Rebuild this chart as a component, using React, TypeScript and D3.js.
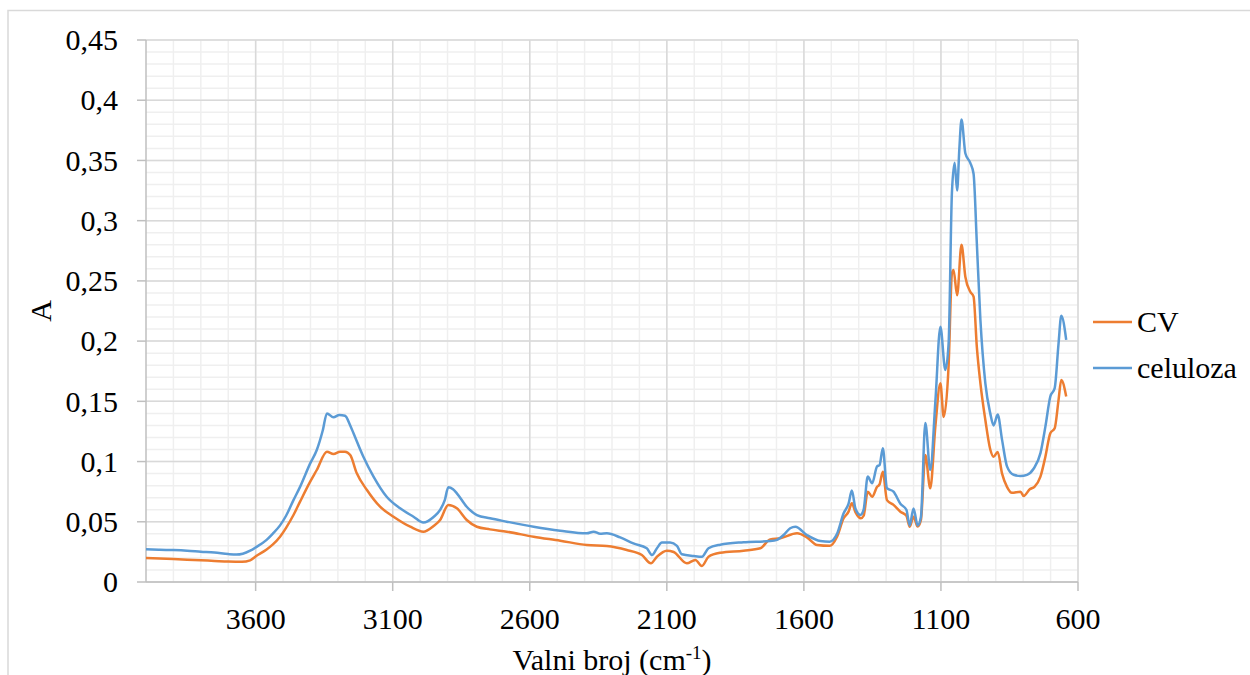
import React from "react";
import * as d3 from "d3";

// ---------- data ----------
const celulozaWn = [4000,3950,3900,3850,3800,3750,3700,3670,3647,3620,3598,3560,3538,3511,3489,3462,3438,3401,3377,3355,3340,3316,3295,3274,3255,3243,3207,3170,3122,3073,3024,2988,2951,2927,2910,2897,2880,2866,2830,2793,2745,2684,2586,2489,2392,2367,2343,2319,2270,2222,2173,2154,2136,2118,2088,2063,2045,2002,1972,1948,1905,1820,1723,1698,1674,1650,1631,1589,1540,1506,1479,1455,1437,1425,1412,1394,1382,1367,1351,1333,1324,1312,1297,1273,1248,1226,1214,1200,1185,1173,1157,1139,1120,1102,1084,1072,1060,1050,1041,1033,1025,1011,993,981,969,956,938,920,908,893,877,859,835,810,786,762,737,719,701,685,671,661,643];
const celulozaA = [0.0272,0.0268,0.0265,0.026,0.0252,0.0245,0.0232,0.0228,0.0235,0.026,0.029,0.035,0.040,0.047,0.055,0.068,0.079,0.0985,0.1096,0.126,0.140,0.1367,0.1387,0.138,0.130,0.1235,0.104,0.0875,0.0708,0.0612,0.0542,0.0493,0.054,0.0598,0.068,0.0786,0.077,0.0736,0.0625,0.0556,0.0529,0.0501,0.0459,0.0426,0.0404,0.0418,0.040,0.0404,0.037,0.032,0.028,0.0224,0.028,0.0327,0.0327,0.030,0.023,0.0216,0.021,0.028,0.031,0.033,0.034,0.035,0.039,0.0446,0.0459,0.039,0.034,0.0335,0.040,0.057,0.065,0.076,0.061,0.0556,0.060,0.0875,0.082,0.096,0.097,0.111,0.078,0.075,0.065,0.060,0.047,0.061,0.047,0.054,0.132,0.093,0.151,0.212,0.176,0.198,0.323,0.348,0.325,0.359,0.384,0.356,0.348,0.339,0.281,0.2175,0.165,0.140,0.130,0.139,0.118,0.096,0.089,0.088,0.089,0.094,0.107,0.129,0.154,0.161,0.198,0.221,0.201];

const cvWn = [4000,3950,3900,3850,3800,3750,3700,3650,3620,3598,3560,3538,3511,3489,3462,3438,3401,3377,3340,3316,3292,3274,3255,3231,3194,3146,3097,3036,2988,2951,2927,2897,2866,2830,2793,2745,2684,2586,2489,2392,2319,2246,2191,2158,2136,2100,2075,2027,1996,1972,1948,1905,1820,1759,1723,1686,1625,1589,1552,1506,1479,1455,1437,1425,1412,1392,1382,1367,1351,1333,1324,1312,1297,1273,1248,1226,1214,1200,1185,1173,1157,1139,1120,1102,1090,1072,1060,1054,1041,1025,1011,993,981,969,956,938,920,908,893,877,859,841,810,798,776,759,737,719,701,685,671,661,643];
const cvA = [0.020,0.0195,0.019,0.0185,0.018,0.0175,0.017,0.0168,0.018,0.0216,0.027,0.031,0.0376,0.045,0.0556,0.0667,0.0833,0.093,0.1082,0.1063,0.1082,0.1082,0.1054,0.0902,0.0764,0.0625,0.0542,0.0459,0.0418,0.0465,0.0515,0.064,0.0612,0.0515,0.0459,0.0437,0.0418,0.0376,0.0343,0.0307,0.0299,0.0266,0.0224,0.0155,0.021,0.026,0.0249,0.0155,0.0183,0.0133,0.021,0.0243,0.026,0.028,0.0354,0.0363,0.0404,0.0371,0.0307,0.030,0.0376,0.0529,0.0584,0.0653,0.058,0.0529,0.055,0.075,0.0708,0.079,0.081,0.0916,0.068,0.064,0.0584,0.055,0.0459,0.0542,0.046,0.0515,0.1054,0.0778,0.130,0.165,0.137,0.180,0.256,0.259,0.238,0.280,0.2535,0.241,0.237,0.195,0.165,0.1345,0.110,0.104,0.108,0.090,0.079,0.074,0.075,0.0714,0.077,0.079,0.0875,0.104,0.1235,0.1276,0.151,0.1677,0.154];

const xTickValues = [3600, 3100, 2600, 2100, 1600, 1100, 600];
const xTickLabels = ["3600", "3100", "2600", "2100", "1600", "1100", "600"];
const yTickValues = [0, 0.05, 0.1, 0.15, 0.2, 0.25, 0.3, 0.35, 0.4, 0.45];
const yTickLabels = ["0", "0,05", "0,1", "0,15", "0,2", "0,25", "0,3", "0,35", "0,4", "0,45"];

const seriesNames = ["CV", "celuloza"];
const seriesColors = ["#ED7D31", "#5B9BD5"];

// ---------- layout ----------
const W = 1250;
const H = 675;
const left = 146;
const right = 1078;
const top = 40;
const bottom = 582;
const FONT = "'Liberation Serif', 'Times New Roman', serif";

export default function App() {
  const x = d3.scaleLinear().domain([4000, 600]).range([left, right]);
  const y = d3.scaleLinear().domain([0, 0.45]).range([bottom, top]);

  const line = d3
    .line<[number, number]>()
    .x((d) => x(d[0]))
    .y((d) => y(d[1]))
    .curve(d3.curveMonotoneX);

  const cvData: [number, number][] = cvWn.map((w, i) => [w, cvA[i]]);
  const celData: [number, number][] = celulozaWn.map((w, i) => [w, celulozaA[i]]);

  const minorX = d3.range(3900, 599, -100);
  const minorY = d3.range(1, 46).map((k) => k / 100);

  return (
    <svg
      width={W}
      height={H}
      style={{ position: "absolute", left: 0, top: 0, background: "#fff" }}
      fontFamily={FONT}
    >
      <rect x={8} y={10.5} width={1400} height={800} fill="#fff" stroke="#d9d9d9" strokeWidth={1.5} />

      {/* minor grid */}
      {minorX.map((v) => (
        <line key={"mx" + v} x1={x(v)} x2={x(v)} y1={top} y2={bottom} stroke="#efefef" strokeWidth={1.5} />
      ))}
      {minorY.map((v) => (
        <line key={"my" + v} x1={left} x2={right} y1={y(v)} y2={y(v)} stroke="#efefef" strokeWidth={1.5} />
      ))}
      {/* major grid */}
      {xTickValues.map((v) => (
        <line key={"gx" + v} x1={x(v)} x2={x(v)} y1={top} y2={bottom} stroke="#d9d9d9" strokeWidth={1.5} />
      ))}
      {yTickValues.map((v) => (
        <line key={"gy" + v} x1={left} x2={right} y1={y(v)} y2={y(v)} stroke="#d9d9d9" strokeWidth={1.5} />
      ))}

      {/* axes */}
      <line x1={left} x2={left} y1={top} y2={bottom} stroke="#bfbfbf" strokeWidth={1.5} />
      <line x1={left} x2={right} y1={bottom} y2={bottom} stroke="#bfbfbf" strokeWidth={1.5} />
      {yTickValues.map((v) => (
        <line key={"ty" + v} x1={left - 9} x2={left} y1={y(v)} y2={y(v)} stroke="#bfbfbf" strokeWidth={1.5} />
      ))}
      {xTickValues.map((v) => (
        <line key={"tx" + v} x1={x(v)} x2={x(v)} y1={bottom} y2={bottom + 9} stroke="#bfbfbf" strokeWidth={1.5} />
      ))}

      {/* tick labels */}
      {yTickValues.map((v, i) => (
        <text key={"ly" + v} x={118} y={y(v)} dy="0.34em" textAnchor="end" fontSize={30} fill="#000">
          {yTickLabels[i]}
        </text>
      ))}
      {xTickValues.map((v, i) => (
        <text key={"lx" + v} x={x(v)} y={629} textAnchor="middle" fontSize={30} fill="#000">
          {xTickLabels[i]}
        </text>
      ))}

      {/* axis titles */}
      <text transform="translate(51,311) rotate(-90)" textAnchor="middle" fontSize={30} fill="#000">
        A
      </text>
      <text x={612} y={670} textAnchor="middle" fontSize={30} fill="#000">
        Valni broj (cm
        <tspan fontSize={19} dy={-11}>-1</tspan>
        <tspan dy={11}>)</tspan>
      </text>

      {/* series */}
      <path d={line(cvData) || ""} fill="none" stroke={seriesColors[0]} strokeWidth={2.5} strokeLinejoin="round" />
      <path d={line(celData) || ""} fill="none" stroke={seriesColors[1]} strokeWidth={2.5} strokeLinejoin="round" />

      {/* legend */}
      {seriesNames.map((n, i) => (
        <g key={n}>
          <line x1={1093} x2={1132} y1={322 + i * 46} y2={322 + i * 46} stroke={seriesColors[i]} strokeWidth={2.5} />
          <text x={1137} y={322 + i * 46} dy="0.34em" fontSize={30} fill="#000">
            {n}
          </text>
        </g>
      ))}
    </svg>
  );
}
